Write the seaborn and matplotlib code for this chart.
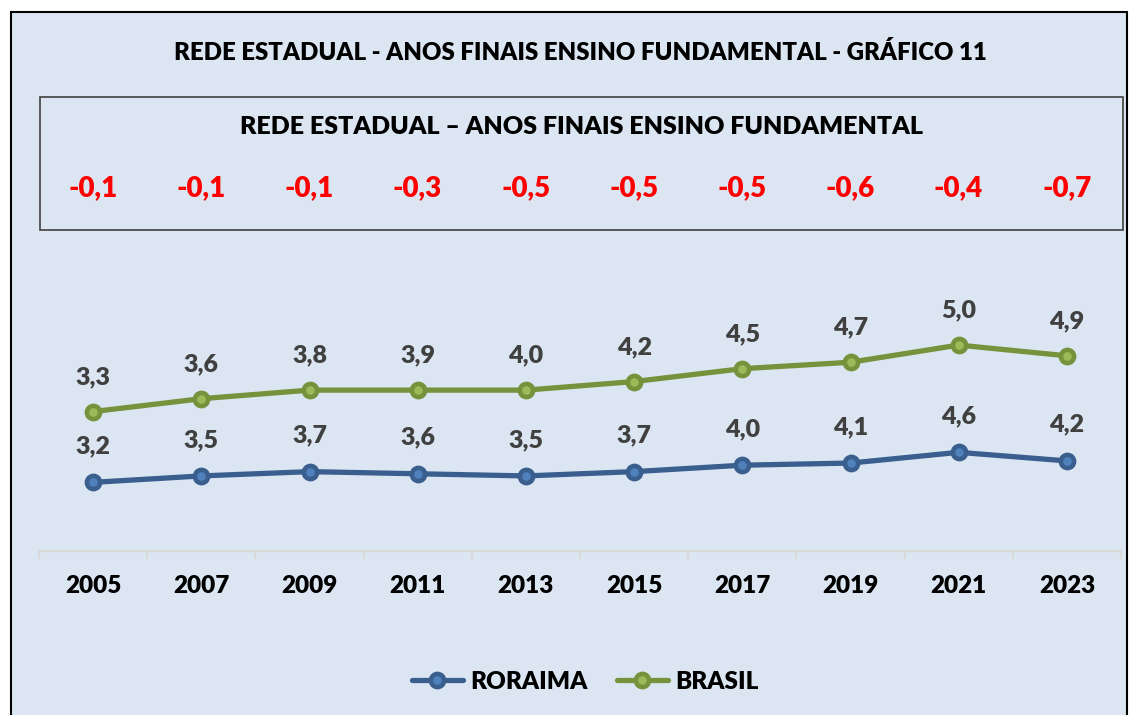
import matplotlib
matplotlib.use("Agg")
import matplotlib.pyplot as plt
import seaborn as sns
import pandas as pd
import numpy as np
from matplotlib.patches import Rectangle
from matplotlib.lines import Line2D

years = ["2005", "2007", "2009", "2011", "2013", "2015", "2017", "2019", "2021", "2023"]
roraima = [3.2, 3.5, 3.7, 3.6, 3.5, 3.7, 4.0, 4.1, 4.6, 4.2]
brasil = [3.3, 3.6, 3.8, 3.9, 4.0, 4.2, 4.5, 4.7, 5.0, 4.9]
diffs = ["-0,1", "-0,1", "-0,1", "-0,3", "-0,5", "-0,5", "-0,5", "-0,6", "-0,4", "-0,7"]
title = "REDE ESTADUAL - ANOS FINAIS ENSINO FUNDAMENTAL - GRÁFICO 11"
box_title = "REDE ESTADUAL \u2013 ANOS FINAIS ENSINO FUNDAMENTAL"

sns.set_theme(style="white")
plt.rcParams['font.family'] = ['Lato', 'DejaVu Sans']
WT = "heavy"

W, H = 1138, 715
fig = plt.figure(figsize=(W / 100, H / 100), dpi=100)
fig.patch.set_facecolor("white")

def fx(x):
    return x / W

def fy(y):
    return 1 - y / H

BG = "#DCE6F2"
fig.patches.append(Rectangle((fx(11), fy(725)), fx(1127 - 11), (725 - 12) / H,
                             transform=fig.transFigure, facecolor=BG,
                             edgecolor="black", linewidth=1.5, zorder=-2))
# inner box
fig.patches.append(Rectangle((fx(40), fy(230)), fx(1123 - 40), (230 - 97) / H,
                             transform=fig.transFigure, facecolor="none",
                             edgecolor="#404040", linewidth=1.2, zorder=-1))

fig.text(fx(580), fy(52), title, ha="center", va="center", fontsize=17.3,
         fontweight=WT, color="black")
fig.text(fx(582), fy(127), box_title, ha="center", va="center", fontsize=18,
         fontweight=WT, color="black")

# axes: x from 39 to 1121, y zero at 551 px; 21.45 px per unit
ax_left, ax_right = 39, 1121
ax_bottom, ax_top = 551, 290
ax = fig.add_axes([fx(ax_left), fy(ax_bottom), fx(ax_right - ax_left), (ax_bottom - ax_top) / H])
ax.set_facecolor("none")
ax.patch.set_alpha(0)
scale = 21.45
ax.set_ylim(0, (ax_bottom - ax_top) / scale)
ax.set_xlim(-0.5, len(years) - 0.5)

x = np.arange(len(years))
stacked = [r + b for r, b in zip(roraima, brasil)]
df = pd.DataFrame({"x": x, "roraima": roraima, "brasil_stacked": stacked})

BLUE, BLUE_IN = "#3A5F8E", "#4F81BD"
GREEN, GREEN_IN = "#77923C", "#9BBB59"

sns.lineplot(data=df, x="x", y="roraima", ax=ax, color=BLUE, linewidth=3.8,
             marker="o", markersize=9.5, markeredgewidth=3.3,
             markerfacecolor=BLUE_IN, markeredgecolor=BLUE, zorder=3)
sns.lineplot(data=df, x="x", y="brasil_stacked", ax=ax, color=GREEN, linewidth=3.8,
             marker="o", markersize=9.5, markeredgewidth=3.3,
             markerfacecolor=GREEN_IN, markeredgecolor=GREEN, zorder=3)

for i in range(len(years)):
    ax.annotate(f"{roraima[i]:.1f}".replace(".", ","), (x[i], roraima[i]),
                xytext=(0, 26), textcoords="offset points", ha="center", va="center",
                fontsize=18, fontweight=WT, color="#404040", annotation_clip=False)
    ax.annotate(f"{brasil[i]:.1f}".replace(".", ","), (x[i], stacked[i]),
                xytext=(0, 25), textcoords="offset points", ha="center", va="center",
                fontsize=18, fontweight=WT, color="#404040", annotation_clip=False)

for s in ["top", "right", "left"]:
    ax.spines[s].set_visible(False)
ax.spines["bottom"].set_color("#D9D9D9")
ax.spines["bottom"].set_linewidth(1.5)
ax.set_yticks([])
ax.set_xticks(x)
ax.set_xticklabels(years, fontsize=17.5, fontweight=WT, color="black")
ax.tick_params(axis="x", which="major", length=0, pad=17, bottom=True)
ax.set_xticks(np.arange(-0.5, len(years)), minor=True)
ax.tick_params(axis="x", which="minor", length=6, width=1.5, color="#D9D9D9",
               direction="out", bottom=True)
ax.set_xlabel("")
ax.set_ylabel("")

# differences row in the box
for i, d in enumerate(diffs):
    fig.text(fx(93 + 108.2 * i), fy(188), d, ha="center", va="center", fontsize=20,
             fontweight=WT, color="#FF0000")

handles = [
    Line2D([], [], color=BLUE, linewidth=3.8, marker="o", markersize=9.5,
           markeredgewidth=3.3, markerfacecolor=BLUE_IN, markeredgecolor=BLUE),
    Line2D([], [], color=GREEN, linewidth=3.8, marker="o", markersize=9.5,
           markeredgewidth=3.3, markerfacecolor=GREEN_IN, markeredgecolor=GREEN),
]
leg = fig.legend(handles, ["RORAIMA", "BRASIL"], loc="center", bbox_to_anchor=(fx(585), fy(682)),
                 ncol=2, frameon=False, prop={"weight": WT, "size": 17.5},
                 handlelength=2.1, handletextpad=0.3, columnspacing=1.2)
for t in leg.get_texts():
    t.set_color("black")

fig.savefig("out.png", dpi=100, facecolor=fig.get_facecolor())
